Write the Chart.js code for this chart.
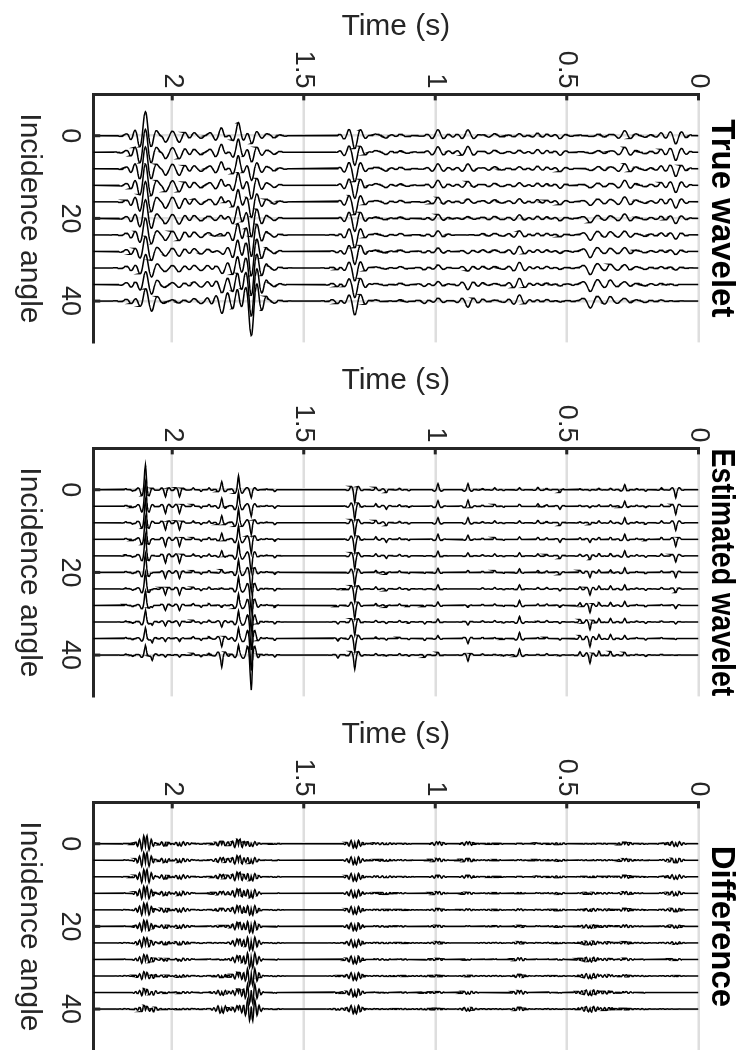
<!DOCTYPE html>
<html>
<head>
<meta charset="utf-8">
<title>True / estimated wavelet gathers</title>
<script src="https://cdn.jsdelivr.net/npm/chart.js@4.4.1/dist/chart.umd.min.js"></script>
<style>
  html, body { margin: 0; padding: 0; background: #fff; overflow: hidden; }
  body { width: 744px; height: 1050px; position: relative; }
  /* the figure is laid out landscape and then turned a quarter turn clockwise */
  #figure { position: absolute; left: 0; top: 0; width: 1050px; height: 744px;
            transform-origin: 0 0; transform: translate(744px, 0) rotate(90deg); }
  #figure canvas { position: absolute; top: 0; }
</style>
</head>
<body>
<div id="figure">
  <canvas id="panel0" width="350" height="744" style="left:0px"></canvas>
  <canvas id="panel1" width="350" height="744" style="left:354px"></canvas>
  <canvas id="panel2" width="350" height="744" style="left:708px"></canvas>
</div>
<script>
Chart.defaults.font.family = '"Liberation Sans", Arial, Helvetica, sans-serif';
Chart.defaults.color = '#262626';

// axes
const angles = [0, 4, 8, 12, 16, 20, 24, 28, 32, 36, 40];
const timeTicks = [0, 0.5, 1, 1.5, 2];
const angleTicks = [0, 20, 40];
const titles = ['True wavelet', 'Estimated wavelet', 'Difference'];

const dt = 0.002;   // sample interval (s)
const tMax = 2.3;   // record length (s)

// reflection times (s)
const eventTimes = [0.086, 0.140, 0.200, 0.235, 0.279, 0.333, 0.378, 0.412, 0.450, 0.526,
                    0.575, 0.610, 0.680, 0.740, 0.774, 0.820, 0.876, 0.990, 1.040, 1.100,
                    1.135, 1.186, 1.225, 1.306, 1.370, 1.610, 1.640, 1.700, 1.748, 1.812,
                    1.860, 1.890, 1.920, 1.972, 2.026, 2.075, 2.102, 2.150, 2.175];

// peak deflection of each reflection on the traces at 0,4,...,40 degrees (up = positive)
const eventAmps = [
  [-8, -8, -7.5, -7, -6, -5, -4, -3, -2, -1, -0.5],
  [2, 2, 2, 2, 2, 1.5, 1.5, 1, 1, 1, 1],
  [-1.5, -1.5, -1.5, -1.5, -1.5, -1.5, -1.5, -1.5, -1.5, -1.5, -1.5],
  [1.2, 1.2, 1.2, 1.2, 1.2, 1, 1, 1, 1, 1, 1],
  [5, 5, 5, 5, 5, 4.5, 4, 4, 3.5, 3, 3],
  [1.5, 1.5, 2, 2, 2.5, 2.5, 3, 3, 3.5, 4, 4],
  [1.5, 1.5, 2, 2, 2.5, 2.5, 3, 3, 3.5, 4, 4],
  [-1, -1.5, -2, -3, -4, -5, -6, -7, -7.5, -8, -8],
  [1, 1, 1, 1.5, 1.5, 2, 2, 2.5, 2.5, 3, 3],
  [-3, -3, -3, -3, -3, -2.5, -2, -2, -1.5, -1.5, -1],
  [1.5, 1.5, 1.5, 1.5, 1.5, 1.5, 1.5, 1.5, 1.5, 1.5, 1.5],
  [2.5, 2.5, 2.5, 2, 2, 2, 1.5, 1.5, 1, 1, 1],
  [2, 2, 2, 2.5, 3, 3.5, 4, 5, 5.5, 6, 6],
  [-1, -1, -1, -1, -1, -1, -1, -1, -1, -1, -1],
  [2, 2, 2, 2, 2, 2, 1.5, 1.5, 1.5, 1, 1],
  [1.2, 1.2, 1.2, 1.2, 1.2, 1.2, 1.2, 1.2, 1.2, 1.2, 1.2],
  [6, 6, 5, 4, 3, 2, 0, -2, -3, -5, -6],
  [6, 5.5, 5, 5, 4.5, 4, 4, 3.5, 3, 3, 3],
  [0, 0, 0, 0, -0.5, -1, -1, -1.5, -2, -2, -2.5],
  [-1.2, -1.2, -1.2, -1.2, -1.2, -1.2, -1.2, -1.2, -1.2, -1.2, -1.2],
  [1.5, 1.5, 1.5, 1.5, 1.5, 1.5, 1.5, 1.5, 1.5, 1.5, 1.5],
  [-3, -3, -3, -3, -2.5, -2, -2, -2, -1.5, -1.5, -1],
  [2.5, 2.5, 2.5, 2.5, 2, 2, 2, 2, 1.5, 1.5, 1.5],
  [-13, -13, -13, -13, -13, -13, -13, -13, -13, -13, -14],
  [0, 0, 0, 0, 0, -0.5, -1, -1.5, -2, -2.5, -3],
  [-2, -2, -2, -2, -2, -2, -2, -2, -2, -2, -2],
  [1, 1, 1, 1, 1, 1, 1, 1, 1, 1, 1],
  [-8, -10, -12, -14, -16, -19, -22, -25, -28, -32, -35],
  [14, 14, 14, 13.5, 13, 12.5, 12, 11.5, 11, 10.5, 10],
  [8, 8, 7, 6, 5, 3, 1, -2, -5, -8, -12],
  [2, 2, 2, 2, 2, 2, 2, 2, 2, 2, 2],
  [-2, -2, -2, -2, -2, -2, -2, -2, -2, -2, -2],
  [2, 2, 2, 2, 2, 2, 2, 2, 2, 2, 2],
  [-7, -7, -7, -7, -7, -6, -6, -5, -4, -3, -2],
  [-7, -7, -7, -7, -7, -6, -6, -5, -4, -3, -2],
  [0, 0, 0, -1, -1, -2, -2, -3, -4, -5, -6],
  [24, 23, 22, 21, 20, 18, 16, 14, 12, 11, 10],
  [-1.5, -1.5, -1.5, -1.5, -1.5, -1.5, -1.5, -1.5, -1.5, -1.5, -1.5],
  [1.2, 1.2, 1.2, 1.2, 1.2, 1.2, 1.2, 1.2, 1.2, 1.2, 1.2]
];

// wavelets, centre sample first, every 2 ms outwards (symmetric)
const trueWavelet = [1.00, 0.96, 0.85, 0.68, 0.48, 0.27, 0.06, -0.12, -0.27, -0.39,
                     -0.46, -0.48, -0.45, -0.38, -0.27, -0.14, -0.02, 0.09, 0.17, 0.23,
                     0.25, 0.24, 0.20, 0.14, 0.07, 0.00, -0.05, -0.09, -0.11, -0.11,
                     -0.09, -0.06, -0.03, -0.01, 0];
const estWavelet = [1.00, 0.80, 0.45, 0.15, -0.05, -0.17, -0.24, -0.25, -0.21, -0.14,
                    -0.06, 0.01, 0.05, 0.07, 0.07, 0.05, 0.03, 0.00, -0.02, -0.03,
                    -0.03, -0.02, -0.01, 0];
const diffWavelet = [-0.08, 0.10, 0.27, 0.33, 0.22, 0.02, -0.17, -0.26, -0.20, -0.04,
                     0.11, 0.18, 0.14, 0.03, -0.07, -0.11, -0.08, -0.01, 0.05, 0.07,
                     0.05, 0.01, -0.02, -0.03, -0.02, 0];

const ampScale = 1 / 4.13;  // deflection -> degrees on the angle axis

// each trace: reflections dressed with the panel's wavelet
function buildTraces(wavelet) {
    const n = Math.round(tMax / dt);
    const idx = eventTimes.map(t => Math.round(t / dt));
    return angles.map((a, j) => {
        const pts = [];
        for (let i = 0; i <= n; i++) {
            let v = 0;
            for (let e = 0; e < idx.length; e++) {
                const k = Math.abs(i - idx[e]);
                if (k < wavelet.length) v += eventAmps[e][j] * wavelet[k];
            }
            pts.push({ x: a - v * ampScale, y: i * dt });
        }
        return pts;
    });
}

// matlab style ticks pointing into the plot
const inwardTicks = {
    id: 'inwardTicks',
    afterDraw(chart) {
        const { ctx, chartArea, scales } = chart;
        ctx.save();
        ctx.strokeStyle = '#262626';
        ctx.lineWidth = 3;
        ctx.beginPath();
        scales.y.ticks.forEach(t => {
            const py = scales.y.getPixelForValue(t.value);
            ctx.moveTo(chartArea.left, py);
            ctx.lineTo(chartArea.left + 6, py);
        });
        scales.x.ticks.forEach(t => {
            const px = scales.x.getPixelForValue(t.value);
            ctx.moveTo(px, chartArea.bottom);
            ctx.lineTo(px, chartArea.bottom - 7);
        });
        ctx.stroke();
        ctx.restore();
    }
};

function makePanel(id, title, traces) {
    new Chart(document.getElementById(id), {
        type: 'scatter',
        data: {
            datasets: traces.map(pts => ({
                data: pts,
                showLine: true,
                borderColor: '#000',
                borderWidth: 1.5,
                pointRadius: 0,
                pointHoverRadius: 0,
                tension: 0
            }))
        },
        options: {
            responsive: false,
            animation: false,
            events: [],
            layout: { padding: { left: 0, right: 7.6, top: 0, bottom: 0 } },
            plugins: {
                legend: { display: false },
                tooltip: { enabled: false },
                title: {
                    display: true,
                    text: title,
                    fullSize: false,
                    color: '#000',
                    font: { size: 33, weight: 'bold' },
                    padding: { top: 3, bottom: 3 }
                }
            },
            scales: {
                x: {
                    type: 'linear',
                    position: 'bottom',
                    min: -10,
                    max: 50,
                    afterBuildTicks: s => { s.ticks = angleTicks.map(v => ({ value: v })); },
                    afterFit: s => { s.height = 93.3; },
                    ticks: { font: { size: 27 }, padding: 8, maxRotation: 0, autoSkip: false,
                             callback: v => String(v) },
                    grid: { color: '#dedede', lineWidth: 2.5, drawTicks: false },
                    border: { display: true, color: '#262626', width: 3 },
                    title: { display: true, text: 'Incidence angle', font: { size: 30 },
                             padding: { top: 0, bottom: 11 } }
                },
                y: {
                    type: 'linear',
                    position: 'left',
                    reverse: true,
                    min: 0,
                    max: tMax,
                    afterBuildTicks: s => { s.ticks = timeTicks.map(v => ({ value: v })); },
                    afterFit: s => { s.width = 94.4; },
                    ticks: { font: { size: 27 }, padding: 6, autoSkip: false,
                             callback: v => String(v) },
                    grid: { color: '#dedede', lineWidth: 2.5, drawTicks: false },
                    border: { display: true, color: '#262626', width: 3 },
                    title: { display: true, text: 'Time (s)', font: { size: 30 },
                             padding: { top: 9, bottom: 0 } }
                }
            }
        },
        plugins: [inwardTicks]
    });
}

document.addEventListener('DOMContentLoaded', function() {
    makePanel('panel0', titles[0], buildTraces(trueWavelet));
    makePanel('panel1', titles[1], buildTraces(estWavelet));
    makePanel('panel2', titles[2], buildTraces(diffWavelet));
});
</script>
</body>
</html>
